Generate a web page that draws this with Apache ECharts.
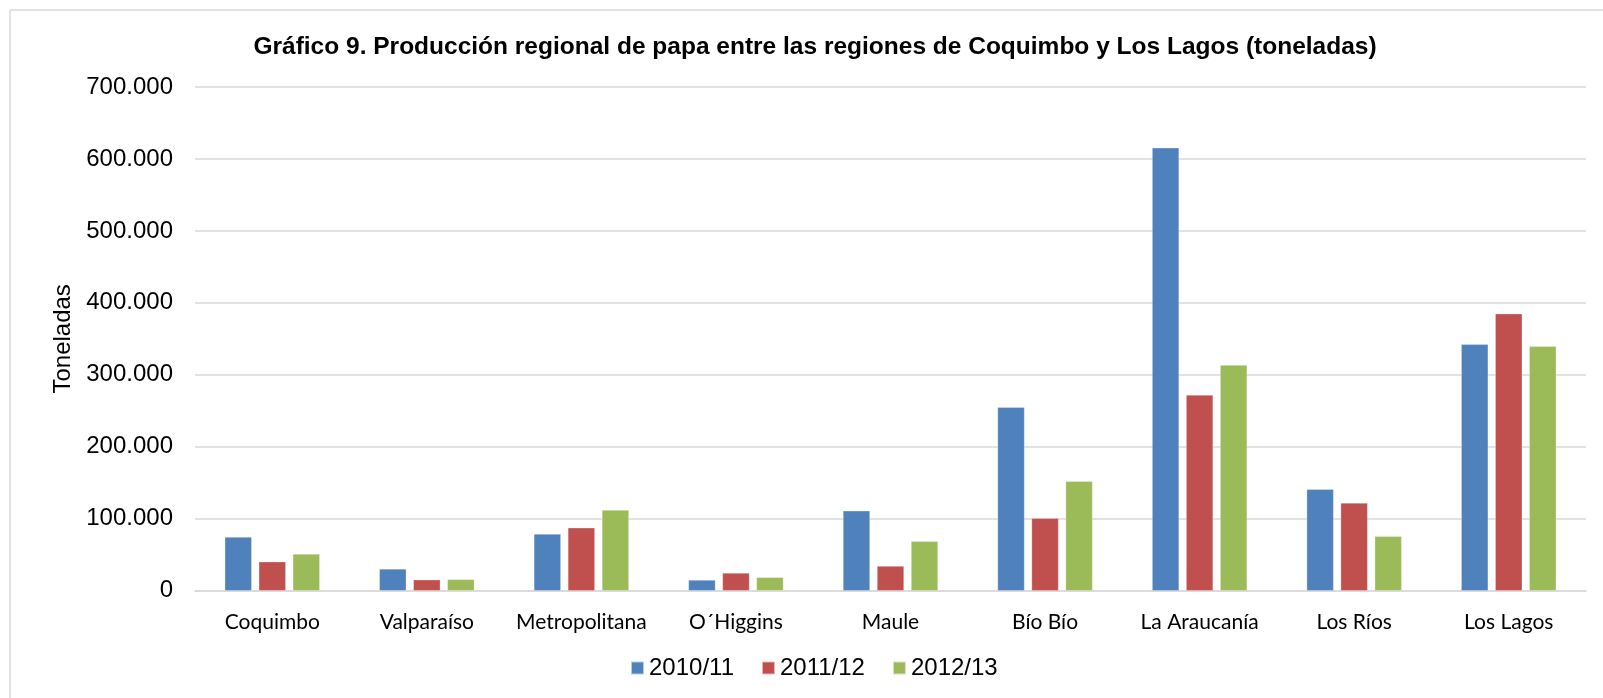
<!DOCTYPE html>
<html>
<head>
<meta charset="utf-8">
<title>Producción regional de papa</title>
<script src="https://cdn.jsdelivr.net/npm/echarts@6/dist/echarts.min.js"></script>
<style>
    html, body {margin: 0; padding: 0; background: #fff;}
    #chart {width: 1603px; height: 698px;}
</style>
</head>
<body>
<div id="chart"></div>
<script>
// datos (toneladas)
var regiones = ['Coquimbo', 'Valparaíso', 'Metropolitana', 'O´Higgins', 'Maule', 'Bío Bío', 'La Araucanía', 'Los Ríos', 'Los Lagos'];
var temporadas = ['2010/11', '2011/12', '2012/13'];
var prod2010 = [74600, 30200, 78800, 14900, 111000, 255000, 615600, 141000, 342400];
var prod2011 = [40300, 15300, 87500, 24600, 34300, 100600, 272000, 122000, 385000];
var prod2012 = [51000, 15800, 112000, 18600, 68600, 152000, 313600, 75600, 339600];
var yTicks = [0, 100000, 200000, 300000, 400000, 500000, 600000, 700000];

var colores = ['#4F81BD', '#C0504D', '#9BBB59'];
var arial = 'Liberation Sans, Arial, sans-serif';

function miles(v) {
    // separador de miles con punto
    return String(v).replace(/\B(?=(\d{3})+(?!\d))/g, '.');
}

function serie(nombre, datos) {
    return {
        name: nombre,
        type: 'bar',
        data: datos,
        barWidth: 27,
        barGap: '26%',
        itemStyle: {borderColor: 'rgba(255,255,255,0.6)', borderWidth: 0.5}
    };
}

var myChart = echarts.init(document.getElementById('chart'), null, {renderer: 'canvas'});

var option = {
    animation: false,
    color: colores,
    title: {
        text: 'Gráfico 9. Producción regional de papa entre las regiones de Coquimbo y Los Lagos (toneladas)',
        left: 810,
        textAlign: 'center',
        top: 30,
        textStyle: {fontFamily: arial, fontWeight: 'bold', fontSize: 24.5, color: '#000'}
    },
    graphic: [
        {
            type: 'rect',
            shape: {x: 10, y: 10, width: 1620, height: 720},
            style: {fill: 'none', stroke: '#d9d9d9', lineWidth: 1.5},
            silent: true
        }
    ],
    legend: {
        data: temporadas,
        left: 630,
        top: 656,
        padding: 0,
        itemWidth: 13,
        itemHeight: 13,
        itemGap: 27,
        icon: 'rect',
        textStyle: {fontFamily: arial, fontSize: 24, color: '#000'}
    },
    grid: {left: 195, right: 17, top: 87, bottom: 107.3, containLabel: false},
    xAxis: {
        type: 'category',
        data: regiones,
        axisTick: {show: false},
        axisLine: {lineStyle: {color: '#d9d9d9', width: 1.5}},
        axisLabel: {interval: 0, fontFamily: 'Lato, sans-serif', fontSize: 21, color: '#000', margin: 21}
    },
    yAxis: {
        type: 'value',
        min: yTicks[0],
        max: yTicks[yTicks.length - 1],
        interval: 100000,
        name: 'Toneladas',
        nameLocation: 'middle',
        nameGap: 120,
        nameTextStyle: {fontFamily: arial, fontSize: 24, color: '#000'},
        axisLine: {show: false},
        axisTick: {show: false},
        splitLine: {lineStyle: {color: '#d9d9d9', width: 1.5}},
        axisLabel: {
            fontFamily: arial,
            fontSize: 24,
            color: '#000',
            margin: 22,
            formatter: function (v) { return miles(v); }
        }
    },
    series: [
        serie(temporadas[0], prod2010),
        serie(temporadas[1], prod2011),
        serie(temporadas[2], prod2012)
    ]
};

myChart.setOption(option);
</script>
</body>
</html>
